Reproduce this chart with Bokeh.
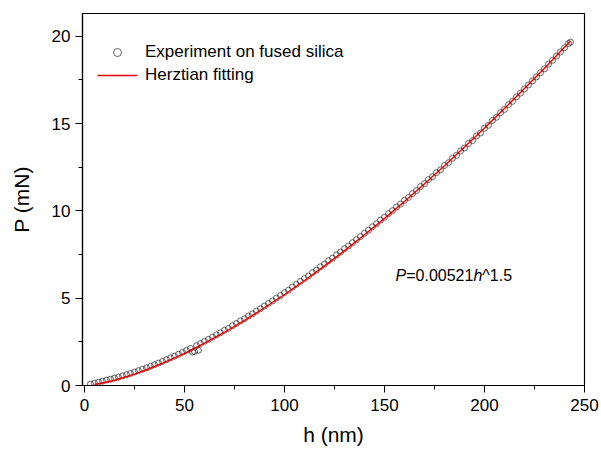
from bokeh.plotting import figure
from bokeh.models import Range1d, SingleIntervalTicker, Legend, LegendItem, Label
from bokeh.embed import file_html
from bokeh.resources import INLINE

exp_h = [3, 5, 7, 9, 11, 13, 15, 17, 19, 21, 23, 25, 27, 29, 31, 33, 35, 37, 39, 41,
         43, 45, 47, 49, 51, 53, 54, 55, 56, 57, 58, 60, 62, 64, 66, 68, 70, 72, 74, 76,
         78, 80, 82, 84, 86, 88, 90, 92, 94, 96, 98, 100, 102, 104, 106, 108, 110, 112, 114, 116,
         118, 120, 122, 124, 126, 128, 130, 132, 134, 136, 138, 140, 142, 144, 146, 148, 150, 152, 154, 156,
         158, 160, 162, 164, 166, 168, 170, 172, 174, 176, 178, 180, 182, 184, 186, 188, 190, 192, 194, 196,
         198, 200, 202, 204, 206, 208, 210, 212, 214, 216, 218, 220, 222, 224, 226, 228, 230, 232, 234, 236,
         238, 240, 242, 243]
exp_P = [0.08, 0.13, 0.19, 0.25, 0.31, 0.36, 0.42, 0.48, 0.55, 0.62, 0.69, 0.77, 0.85, 0.93, 1.01, 1.10, 1.19, 1.28, 1.38, 1.48,
         1.58, 1.68, 1.79, 1.90, 2.01, 2.12, 1.92, 1.95, 2.28, 2.02, 2.40, 2.53, 2.64, 2.77, 2.90, 3.02, 3.16, 3.27, 3.42, 3.55,
         3.70, 3.82, 3.98, 4.10, 4.26, 4.40, 4.55, 4.70, 4.84, 5.01, 5.15, 5.32, 5.46, 5.64, 5.79, 5.96, 6.12, 6.27, 6.46, 6.61,
         6.80, 6.95, 7.14, 7.29, 7.48, 7.64, 7.83, 7.99, 8.18, 8.35, 8.53, 8.72, 8.89, 9.09, 9.26, 9.47, 9.63, 9.84, 10.01, 10.22,
         10.39, 10.60, 10.77, 10.99, 11.16, 11.39, 11.56, 11.79, 11.95, 12.19, 12.35, 12.60, 12.76, 13.01, 13.18, 13.43, 13.60, 13.86, 14.02, 14.29,
         14.46, 14.73, 14.90, 15.18, 15.36, 15.62, 15.81, 16.08, 16.27, 16.53, 16.74, 16.98, 17.21, 17.44, 17.67, 17.91, 18.13, 18.40, 18.62, 18.86,
         19.10, 19.34, 19.58, 19.66]

# Herztian fitting curve
fit_h = [5, 10, 15, 20, 25, 30, 40, 50, 60, 70, 80, 90, 100, 110, 120, 130, 140, 150,
         160, 170, 180, 190, 200, 210, 220, 230, 240, 243]
fit_P = [0.06, 0.17, 0.30, 0.47, 0.65, 0.86, 1.32, 1.84, 2.42, 3.05, 3.73, 4.45, 5.21, 6.01, 6.85, 7.72, 8.63, 9.57,
         10.54, 11.55, 12.58, 13.65, 14.74, 15.86, 17.00, 18.17, 19.37, 19.73]

FONT = "Liberation Sans"

p = figure(width=601, height=457, output_backend="svg", toolbar_location=None,
           x_range=Range1d(-1, 250), y_range=Range1d(0, 21.3),
           min_border_left=82, min_border_right=17, min_border_top=13, min_border_bottom=72)
p.background_fill_color = "white"
p.border_fill_color = "white"
p.outline_line_color = "black"
p.outline_line_width = 1.2
p.xgrid.visible = False
p.ygrid.visible = False

p.xaxis.ticker = SingleIntervalTicker(interval=50, num_minor_ticks=2)
p.yaxis.ticker = SingleIntervalTicker(interval=5, num_minor_ticks=2)
for ax in (p.xaxis, p.yaxis):
    ax.axis_line_color = "black"
    ax.axis_line_width = 1.2
    ax.major_tick_line_color = "black"
    ax.minor_tick_line_color = "black"
    ax.major_tick_out = 7
    ax.major_tick_in = 0
    ax.minor_tick_out = 4
    ax.minor_tick_in = 0
    ax.major_label_text_font = FONT
    ax.major_label_text_font_size = "17px"
    ax.major_label_text_color = "black"
    ax.axis_label_text_font = FONT
    ax.axis_label_text_font_size = "21px"
    ax.axis_label_text_font_style = "normal"
    ax.axis_label_text_color = "black"
p.xaxis.axis_label = "h (nm)"
p.yaxis.axis_label = "P (mN)"
p.xaxis.major_label_standoff = 6
p.yaxis.major_label_standoff = 5
p.xaxis.axis_label_standoff = 9
p.yaxis.axis_label_standoff = 16

r_exp = p.scatter(exp_h, exp_P, marker="circle", size=6, fill_color=None,
                  line_color="#222222", line_width=0.7)
r_fit = p.line(fit_h, fit_P, line_color="#ee0000", line_width=1.4)

legend = Legend(items=[LegendItem(label="Experiment on fused silica", renderers=[r_exp]),
                       LegendItem(label="Herztian fitting", renderers=[r_fit])],
                location=(15, 300), margin=0, padding=0, spacing=3,
                glyph_width=40, glyph_height=20, label_height=20, label_standoff=8,
                label_text_font=FONT, label_text_font_size="17px", label_text_color="black",
                border_line_color=None, background_fill_alpha=0)
p.add_layout(legend, "center")

ax_x, ax_y = 155.5, 6.3
parts = [("P", "italic", 0), ("=0.00521", "normal", 10.7), ("h", "italic", 77.9), ("^1.5", "normal", 86.8)]
for txt, style, off in parts:
    p.add_layout(Label(x=ax_x, y=ax_y, x_offset=off, text=txt, text_font=FONT,
                       text_font_size="16px", text_font_style=style, text_color="black",
                       text_baseline="alphabetic", text_align="left"))

open("out.html", "w").write(file_html(p, INLINE))
